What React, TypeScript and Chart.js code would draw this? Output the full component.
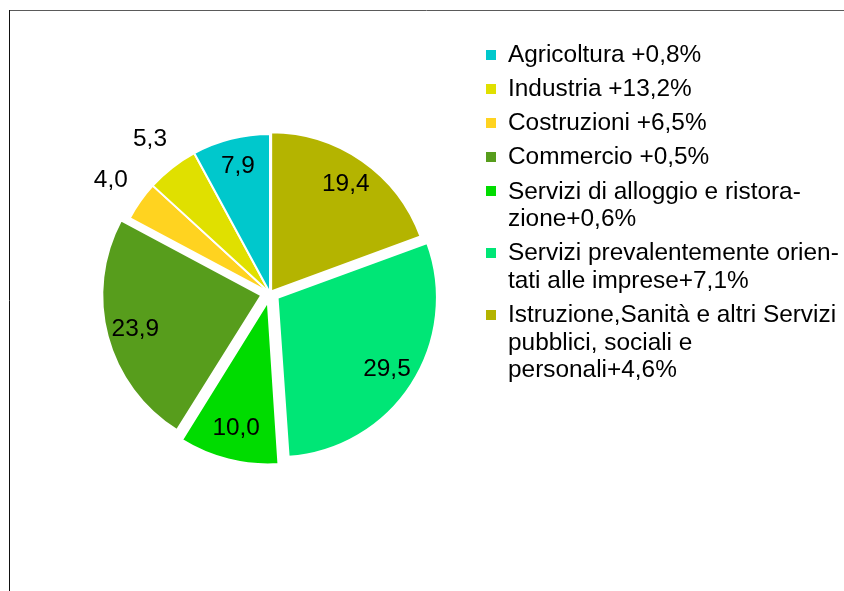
import React, { useEffect, useRef } from "react";
import { Chart, registerables } from "chart.js";

Chart.register(...registerables);

// ---- data (legend order) ----
const categories = [
  "Agricoltura",
  "Industria",
  "Costruzioni",
  "Commercio",
  "Servizi di alloggio e ristorazione",
  "Servizi prevalentemente orientati alle imprese",
  "Istruzione,Sanità e altri Servizi pubblici, sociali e personali",
];
const shares = [7.9, 5.3, 4.0, 23.9, 10.0, 29.5, 19.4];
const legendLines = [
  ["Agricoltura +0,8%"],
  ["Industria +13,2%"],
  ["Costruzioni +6,5%"],
  ["Commercio +0,5%"],
  ["Servizi di alloggio e ristora-", "zione+0,6%"],
  ["Servizi prevalentemente orien-", "tati alle imprese+7,1%"],
  ["Istruzione,Sanità e altri Servizi", "pubblici, sociali e", "personali+4,6%"],
];

// ---- styles ----
const colors = ["#00C8CC", "#E0E000", "#FFD320", "#579D1C", "#00DC00", "#00E676", "#B4B400"];
// explode distance in px (Chart.js 4 draws arcs shifted by offset / 4)
const explodePx = [0, 0, 0, 9, 9, 9, 2];
const FONT = "24.4px 'Liberation Sans', Arial, sans-serif";

// pie drawn counter-clockwise in the reference -> reverse for Chart.js (clockwise)
const order = categories.map((_, i) => categories.length - 1 - i);

const framePlugin = {
  id: "frame",
  beforeDraw(chart: any) {
    const ctx = chart.ctx;
    ctx.save();
    ctx.lineWidth = 1;
    ctx.strokeStyle = "#5a5a5a";
    ctx.beginPath();
    ctx.moveTo(9, 10.5);
    ctx.lineTo(844, 10.5);
    ctx.stroke();
    ctx.strokeStyle = "#111";
    ctx.beginPath();
    ctx.moveTo(9.5, 10);
    ctx.lineTo(9.5, 591);
    ctx.stroke();
    ctx.restore();
  },
};

const sliceLabelPlugin = {
  id: "sliceLabels",
  afterDatasetsDraw(chart: any) {
    const ctx = chart.ctx;
    const meta = chart.getDatasetMeta(0);
    const ds = chart.data.datasets[0];
    ctx.save();
    ctx.font = FONT;
    ctx.fillStyle = "#000";
    ctx.textAlign = "center";
    ctx.textBaseline = "middle";
    meta.data.forEach((arc: any, k: number) => {
      const p = arc.getProps(["x", "y", "startAngle", "endAngle", "outerRadius"], true);
      const v = ds.data[k] as number;
      const mid = (p.startAngle + p.endAngle) / 2;
      const off = ((arc.options && arc.options.offset) || 0) / 4;
      const span = p.endAngle - p.startAngle;
      const cx = p.x + Math.cos(mid) * off;
      const cy = p.y + Math.sin(mid) * off;
      const r = span < 0.4 ? p.outerRadius + 36 : p.outerRadius * 0.82;
      ctx.fillText(v.toFixed(1).replace(".", ","), cx + Math.cos(mid) * r, cy + Math.sin(mid) * r);
    });
    ctx.restore();
  },
};

const legendPlugin = {
  id: "customLegend",
  afterDraw(chart: any) {
    const ctx = chart.ctx;
    const boxX = 486;
    const textX = 508;
    const lineH = 27.6;
    const gap = 6.6;
    let y = 55;
    ctx.save();
    ctx.font = FONT;
    ctx.textAlign = "left";
    ctx.textBaseline = "middle";
    legendLines.forEach((lines, i) => {
      ctx.fillStyle = colors[i];
      ctx.fillRect(boxX, Math.round(y - 5.5), 10, 10);
      ctx.fillStyle = "#000";
      lines.forEach((t, j) => {
        ctx.fillText(t, textX, y + j * lineH);
      });
      y += lines.length * lineH + gap;
    });
    ctx.restore();
  },
};

export default function App() {
  const ref = useRef<HTMLCanvasElement | null>(null);
  useEffect(() => {
    if (!ref.current) return;
    const chart = new Chart(ref.current, {
      type: "pie",
      data: {
        labels: order.map((i) => categories[i]),
        datasets: [
          {
            data: order.map((i) => shares[i]),
            backgroundColor: order.map((i) => colors[i]),
            offset: order.map((i) => explodePx[i] * 4),
            hoverOffset: 0,
            borderColor: "#ffffff",
            borderWidth: 2,
            radius: 159,
          } as any,
        ],
      },
      options: {
        animation: false,
        responsive: false,
        events: [],
        layout: { padding: { left: 20, right: 324, top: 20, bottom: 25 } },
        plugins: {
          legend: { display: false },
          tooltip: { enabled: false },
        },
      },
      plugins: [framePlugin, sliceLabelPlugin, legendPlugin],
    });
    return () => chart.destroy();
  }, []);
  return (
    <div style={{ position: "absolute", left: 0, top: 0, width: 844, height: 591, background: "#fff" }}>
      <canvas ref={ref} width={844} height={591} style={{ width: 844, height: 591, display: "block" }} />
    </div>
  );
}
